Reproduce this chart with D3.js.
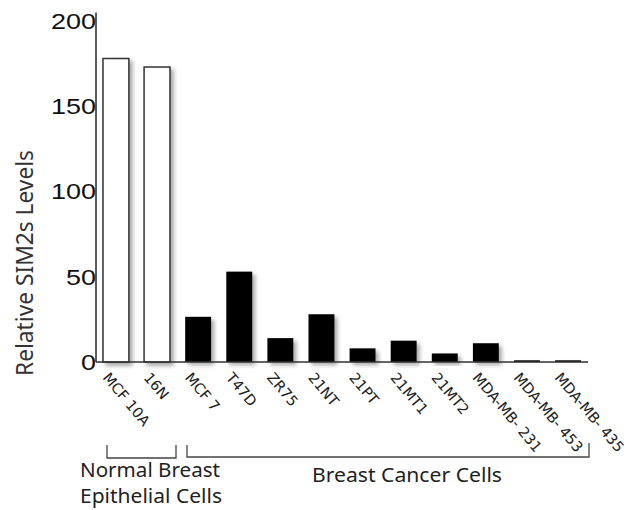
<!DOCTYPE html>
<html><head><meta charset="utf-8">
<script src="https://cdn.jsdelivr.net/npm/d3@7"></script>
<style>body{margin:0;background:#fff}svg{display:block}</style>
</head><body>
<svg id="c" width="626" height="510"></svg>
<script>
const categories = ["MCF 10A","16N","MCF 7","T47D","ZR75","21NT","21PT","21MT1","21MT2","MDA-MB- 231","MDA-MB- 453","MDA-MB- 435"];
const values = [178, 173, 26.5, 53, 14, 28, 8, 12.5, 5, 11, 1, 1];
const groups = ["normal","normal","cancer","cancer","cancer","cancer","cancer","cancer","cancer","cancer","cancer","cancer"];
const yTicks = [0, 50, 100, 150, 200];
const yTitle = "Relative SIM2s Levels";

const svg = d3.select("#c");
const defs = svg.append("defs");
const f = defs.append("filter").attr("id","sh").attr("x","-20%").attr("y","-20%").attr("width","160%").attr("height","160%");
f.append("feDropShadow").attr("dx",3).attr("dy",3).attr("stdDeviation",2).attr("flood-color","#000").attr("flood-opacity",0.35);

const x = d3.scaleBand().domain(categories).range([96, 588]).paddingInner(0.37).paddingOuter(0.17);
const y = d3.scaleLinear().domain([0, 200]).range([362, 21]);

// bars
svg.append("g").selectAll("rect").data(categories).join("rect")
  .attr("x", d => x(d))
  .attr("y", (d,i) => y(values[i]))
  .attr("width", x.bandwidth())
  .attr("height", (d,i) => y(0) - y(values[i]))
  .attr("fill", (d,i) => groups[i] === "normal" ? "#fff" : "#000")
  .attr("stroke", (d,i) => groups[i] === "normal" ? "#333" : "none")
  .attr("stroke-width", 1.5)
  .attr("filter", "url(#sh)");

// axes lines
svg.append("line").attr("x1",96).attr("x2",96).attr("y1",y(0)).attr("y2",y(205))
  .attr("stroke","#333").attr("stroke-width",1.6);
svg.append("line").attr("x1",96).attr("x2",588).attr("y1",y(0)).attr("y2",y(0))
  .attr("stroke","#333").attr("stroke-width",1.6);

// y tick labels
svg.append("g").selectAll("text").data(yTicks).join("text")
  .attr("x", 96).attr("y", d => y(d)).attr("dy","0.36em")
  .attr("text-anchor","end")
  .attr("font-family","Liberation Sans, Arial, sans-serif")
  .attr("font-size",22)
  .attr("fill","#111")
  .attr("textLength", d => String(d).length * 15)
  .attr("lengthAdjust","spacingAndGlyphs")
  .text(d => d);

// y title
svg.append("text")
  .attr("transform","translate(33,263) rotate(-90)")
  .attr("text-anchor","middle")
  .attr("font-family","Noto Sans, sans-serif")
  .attr("font-size",24)
  .attr("fill","#333")
  .attr("textLength",226).attr("lengthAdjust","spacingAndGlyphs")
  .text(yTitle);

// x labels
svg.append("g").selectAll("text").data(categories).join("text")
  .attr("transform", d => `translate(${x(d) + x.bandwidth()/2 - 14},${y(0) + 16}) rotate(50)`)
  .attr("font-family","DejaVu Sans, sans-serif")
  .attr("font-size",14.5)
  .attr("fill","#222")
  .text(d => d);

// brackets
const br = svg.append("g").attr("stroke","#444").attr("stroke-width",1.3).attr("fill","none");
br.append("path").attr("d","M107,445V458H176V445");
br.append("path").attr("d","M187,445V457H589V443");

const gt = svg.append("g").attr("font-family","Noto Sans, sans-serif").attr("font-size",20).attr("fill","#222");
gt.append("text").attr("x",80).attr("y",477).attr("textLength",140).attr("lengthAdjust","spacingAndGlyphs").text("Normal Breast");
gt.append("text").attr("x",80).attr("y",503).attr("textLength",142).attr("lengthAdjust","spacingAndGlyphs").text("Epithelial Cells");
gt.append("text").attr("x",312).attr("y",482).attr("textLength",190).attr("lengthAdjust","spacingAndGlyphs").text("Breast Cancer Cells");
</script>
</body></html>
